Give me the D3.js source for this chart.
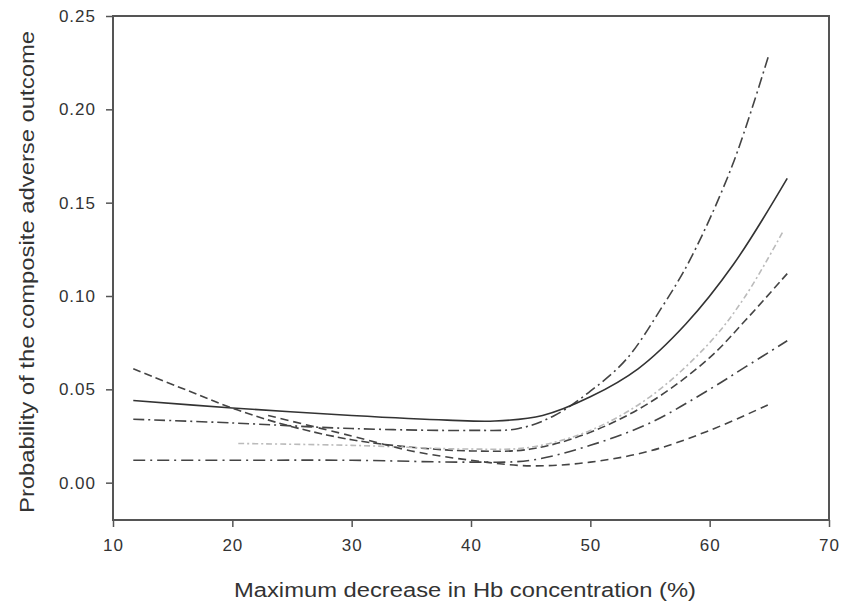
<!DOCTYPE html>
<html>
<head>
<meta charset="utf-8">
<script src="https://cdn.jsdelivr.net/npm/d3@7"></script>
<style>
  body { margin: 0; background: #fff; }
  text { font-family: "Liberation Sans", Arial, sans-serif; fill: #333; }
</style>
</head>
<body>
<div id="chart"></div>
<script>
// x values (%) and probabilities
const xTicks = [10, 20, 30, 40, 50, 60, 70]
const yTicks = [0.00, 0.05, 0.10, 0.15, 0.20, 0.25]

const curveA = [[11.7,0.034],[20,0.032],[30,0.029],[40,0.028],[44,0.029],[47,0.036],[50,0.049],[53,0.066],[56,0.094],[58.4,0.12],[61.9,0.17],[64.9,0.228]]
const curveB = [[11.7,0.044],[20,0.040],[30,0.036],[38,0.0335],[42,0.033],[46,0.036],[50,0.046],[54,0.061],[58,0.085],[62,0.117],[66.5,0.163]]
const curveC = [[11.7,0.061],[16,0.050],[20.4,0.039],[25,0.030],[30,0.023],[35,0.019],[40,0.017],[45,0.018],[50,0.027],[55,0.043],[60,0.067],[63,0.087],[66.5,0.112]]
const curveD = [[20.5,0.021],[30,0.020],[40,0.018],[45,0.019],[50,0.028],[55,0.046],[60,0.075],[63,0.100],[66.1,0.134]]
const curveE = [[11.7,0.012],[20,0.012],[30,0.012],[40,0.011],[45,0.012],[50,0.020],[55,0.032],[60,0.050],[63,0.062],[66.5,0.076]]
const curveF = [[23,0.036],[30,0.025],[35,0.017],[40,0.012],[45,0.009],[50,0.011],[55,0.017],[60,0.028],[65,0.042]]

const series = [
  { pts: curveA, dash: "11,4,2,4", color: "#444" },
  { pts: curveB, dash: null, color: "#333" },
  { pts: curveC, dash: "8,4", color: "#444" },
  { pts: curveD, dash: "6,3,2,3", color: "#bbb" },
  { pts: curveE, dash: "12,5,2,5", color: "#444" },
  { pts: curveF, dash: "8,5", color: "#444" }
]

const width = 844, height = 604
const plot = { left: 113, right: 829, top: 16, bottom: 520 }

const svg = d3.select("#chart").append("svg")
  .attr("width", width)
  .attr("height", height)

const x = d3.scaleLinear().domain([10, 70]).range([plot.left, plot.right])
const y = d3.scaleLinear().domain([-0.02, 0.25]).range([plot.bottom, plot.top])

// frame
svg.append("rect")
  .attr("x", plot.left).attr("y", plot.top)
  .attr("width", plot.right - plot.left).attr("height", plot.bottom - plot.top)
  .attr("fill", "none")
  .attr("stroke", "#555")
  .attr("stroke-width", 2)

const xAxis = svg.append("g")
  .attr("transform", "translate(0," + plot.bottom + ")")
  .call(d3.axisBottom(x).tickValues(xTicks).tickSize(7).tickPadding(12).tickFormat(d3.format("d")))
xAxis.select(".domain").remove()

const yAxis = svg.append("g")
  .attr("transform", "translate(" + plot.left + ",0)")
  .call(d3.axisLeft(y).tickValues(yTicks).tickSize(7).tickPadding(10).tickFormat(d3.format(".2f")))
yAxis.select(".domain").remove()

svg.selectAll(".tick line").attr("stroke", "#555").attr("stroke-width", 1.5)
svg.selectAll(".tick text")
  .attr("font-size", 17)
  .attr("letter-spacing", 1)
  .attr("fill", "#333")
  .style("font-family", "'Liberation Sans', Arial, sans-serif")

const line = d3.line()
  .x(d => x(d[0]))
  .y(d => y(d[1]))
  .curve(d3.curveCatmullRom)

svg.selectAll(".curve")
  .data(series)
  .enter().append("path")
  .attr("class", "curve")
  .attr("d", d => line(d.pts))
  .attr("fill", "none")
  .attr("stroke", d => d.color)
  .attr("stroke-width", 1.6)
  .attr("stroke-dasharray", d => d.dash)

svg.append("text")
  .attr("x", 465)
  .attr("y", 597)
  .attr("text-anchor", "middle")
  .attr("font-size", 20)
  .attr("textLength", 462)
  .attr("lengthAdjust", "spacingAndGlyphs")
  .text("Maximum decrease in Hb concentration (%)")

svg.append("text")
  .attr("transform", "translate(34,272) rotate(-90)")
  .attr("text-anchor", "middle")
  .attr("font-size", 20)
  .attr("textLength", 482)
  .attr("lengthAdjust", "spacingAndGlyphs")
  .text("Probability of the composite adverse outcome")
</script>
</body>
</html>
